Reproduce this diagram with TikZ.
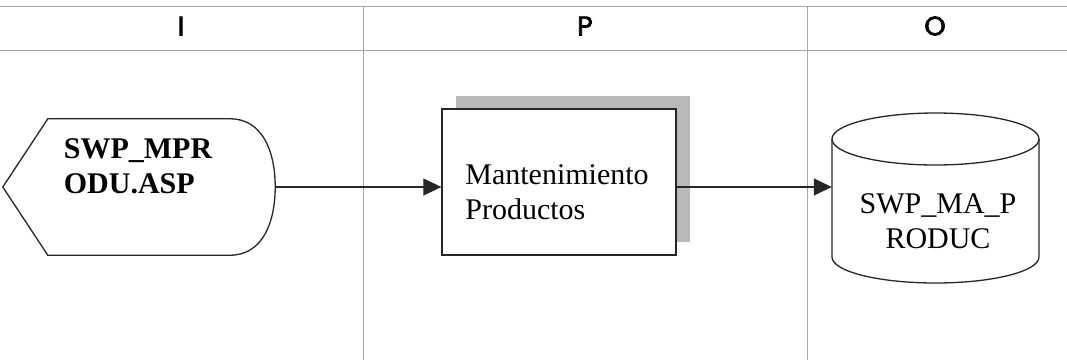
\documentclass[tikz,border=0pt]{standalone}
\usepackage{fontspec}
\setmainfont{Liberation Serif}
\newfontfamily\hdrfont[FakeBold=2.6]{Poppins}
\usetikzlibrary{arrows.meta,shadows}
\begin{document}
\begin{tikzpicture}[x=1pt,y=-1pt,
  gridline/.style={draw=gray!70,line width=0.8pt},
  hdr/.style={font=\hdrfont\fontsize{27}{30}\selectfont},
  txt/.style={font=\fontsize{30}{35}\selectfont,align=left,inner sep=0pt},
  shapeline/.style={draw=black!85,line width=1.3pt},
  conn/.style={draw=black!85,line width=1.1pt,-{Triangle[length=18pt,width=17pt]}}]
\useasboundingbox (0,0) rectangle (1067,360);
% grid
\draw[gridline] (0,6) -- (1067,6);
\draw[gridline] (0,50) -- (1067,50);
\draw[gridline,line width=0.6pt] (363,6) -- (363,360);
\draw[gridline,line width=0.6pt] (807,6) -- (807,360);
% headers
\node[hdr] (hI) at (181,26) {I};
\node[hdr] (hP) at (585,26) {P};
\node[hdr] (hO) at (935,26) {O};
% input display shape
\node[minimum width=272pt,minimum height=136pt,inner sep=0pt] (in) at (139,187) {};
\draw[shapeline] (in.west) -- ([xshift=45pt]in.north west) -- ([xshift=-45pt]in.north east)
  .. controls ([xshift=-13pt]in.north east) and ([yshift=36pt]in.east) .. (in.east)
  .. controls ([yshift=-36pt]in.east) and ([xshift=-13pt]in.south east) .. ([xshift=-45pt]in.south east)
  -- ([xshift=45pt]in.south west) -- cycle;
\node[txt,font=\bfseries\fontsize{30}{35}\selectfont] (inlabel) at (138,166) {SWP\_MPR\\ODU.ASP};
% process box with shadow
\node[shapeline,fill=white,minimum width=234pt,minimum height=146pt,inner sep=0pt,
  copy shadow={shadow xshift=14pt,shadow yshift=13pt,fill=gray!55,draw=none}] (proc) at (559,182) {};
\node[txt] (proclabel) at (557,192) {Mantenimiento\\Productos};
% database cylinder
\node[minimum width=207pt,minimum height=169pt,inner sep=0pt] (db) at (935.5,197.5) {};
\draw[shapeline] (935.5,139) ellipse [x radius=103.5pt,y radius=26pt];
\draw[shapeline] (832,139) -- (832,257) arc[start angle=180,end angle=360,x radius=103.5pt,y radius=26pt] -- (1039,139);
\node[txt,align=center] (dblabel) at (938,221) {SWP\_MA\_P\\RODUC};
% connectors
\draw[conn] (in.east) -- (in.east -| proc.west);
\draw[conn] (in.east -| proc.east) -- (in.east -| db.west);
\end{tikzpicture}
\end{document}
